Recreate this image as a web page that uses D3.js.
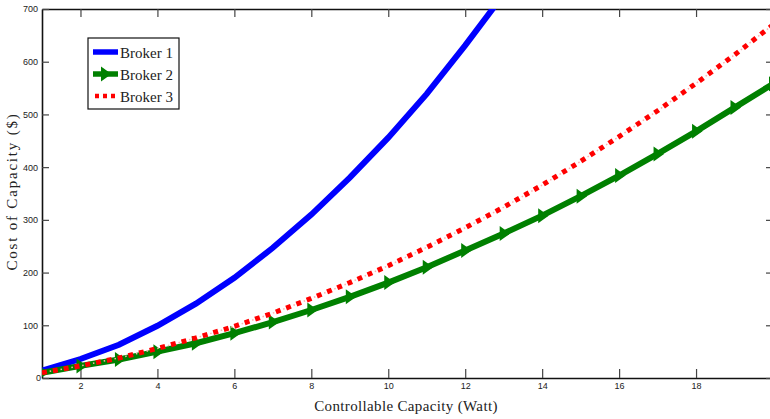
<!DOCTYPE html>
<html>
<head>
<meta charset="utf-8">
<script src="https://cdn.jsdelivr.net/npm/d3@7"></script>
<style>
  body { margin: 0; background: #fff; }
  .tick text { font-family: "Liberation Sans", Arial, sans-serif; font-size: 9px; fill: #222; }
  .axis-label, .legend text { font-family: "Liberation Serif", "DejaVu Serif", serif; fill: #222; }
</style>
</head>
<body>
<div id="chart-area"></div>
<script>
// values, x = 1..20
const capacity = d3.range(1, 21);
const broker1 = [14, 36, 63, 99, 141, 190, 247, 310, 380, 456, 539, 631, 728];
const broker2 = [10, 23, 35, 50, 66, 85, 106, 129, 154, 181, 210, 242, 274, 308, 345, 384, 425, 468, 513, 558];
const broker3 = [10, 23, 38, 56, 76, 98, 123, 151, 181, 213, 248, 285, 324, 366, 411, 458, 507, 559, 613, 670];
const xTicks = [2, 4, 6, 8, 10, 12, 14, 16, 18];
const yTicks = [0, 100, 200, 300, 400, 500, 600, 700];

const margin = { top: 9, right: 0, bottom: 41, left: 42 };
const totalW = 770, totalH = 419;
const width = 731, height = 369; // right edge runs past the window, like the picture

const svg = d3
  .select("#chart-area")
  .append("svg")
  .attr("width", totalW)
  .attr("height", totalH);

const g = svg
  .append("g")
  .attr("transform", "translate(" + margin.left + "," + margin.top + ")");

const xScale = d3.scaleLinear().domain([1, 20]).range([0, width]);
const yScale = d3.scaleLinear().domain([0, 700]).range([height, 0]);

g.append("clipPath")
  .attr("id", "plot-clip")
  .append("rect")
  .attr("width", width)
  .attr("height", height);

// axes, ticks pointing inward
const xAxisCall = d3.axisBottom(xScale).tickValues(xTicks).tickSizeInner(-9).tickSizeOuter(0).tickPadding(5);
const xAxisGroup = g.append("g").attr("class", "x axis").attr("transform", "translate(0," + height + ")").call(xAxisCall);

const xTopCall = d3.axisTop(xScale).tickValues(xTicks).tickSizeInner(-8).tickSizeOuter(0).tickFormat("");
g.append("g").attr("class", "x axis top").call(xTopCall);

const yAxisCall = d3.axisLeft(yScale).tickValues(yTicks).tickSizeInner(-7).tickSizeOuter(0).tickPadding(4);
const yAxisGroup = g.append("g").attr("class", "y axis").call(yAxisCall);

const yRightCall = d3.axisRight(yScale).tickValues(yTicks).tickSizeInner(-7).tickSizeOuter(0).tickFormat("");
g.append("g").attr("class", "y axis right").attr("transform", "translate(" + width + ",0)").call(yRightCall);

g.selectAll(".axis path").attr("stroke", "#111").attr("stroke-width", 1.6);
g.selectAll(".axis line").attr("stroke", "#444").attr("stroke-width", 1.2);
yAxisGroup.selectAll(".tick text").attr("dy", "0.32em");
yAxisGroup.select(".tick text").attr("dx", "3px"); // the 0 sits close to the corner

// Labels
g.append("text")
  .attr("class", "axis-label")
  .attr("x", 364)
  .attr("y", height + 33)
  .attr("font-size", "15px")
  .attr("letter-spacing", "0.35px")
  .attr("text-anchor", "middle")
  .text("Controllable Capacity (Watt)");

g.append("text")
  .attr("class", "axis-label")
  .attr("x", -(height / 2) + 2)
  .attr("y", -25)
  .attr("font-size", "15px")
  .attr("text-anchor", "middle")
  .attr("letter-spacing", "1.8px")
  .attr("transform", "rotate(-90)")
  .text("Cost of Capacity ($)");

// lines
const line = d3.line()
  .x((d, i) => xScale(capacity[i]))
  .y(d => yScale(d));

const plot = g.append("g").attr("clip-path", "url(#plot-clip)");

plot.append("path")
  .datum(broker1)
  .attr("fill", "none")
  .attr("stroke", "#0000ff")
  .attr("stroke-width", 6)
  .attr("d", line);

plot.append("path")
  .datum(broker2)
  .attr("fill", "none")
  .attr("stroke", "#008000")
  .attr("stroke-width", 6)
  .attr("d", line);

const tri = "M-4,-7.5L6.5,0L-4,7.5Z";
plot.selectAll(".marker")
  .data(broker2)
  .enter()
  .append("path")
  .attr("class", "marker")
  .attr("d", tri)
  .attr("fill", "#008000")
  .attr("transform", (d, i) => "translate(" + xScale(capacity[i]) + "," + yScale(d) + ")");

plot.append("path")
  .datum(broker3)
  .attr("fill", "none")
  .attr("stroke", "#ffb0b0")
  .attr("stroke-width", 1.5)
  .attr("stroke-dasharray", "1.5,9.5")
  .attr("stroke-dashoffset", -7.8)
  .attr("d", line);

plot.append("path")
  .datum(broker3)
  .attr("fill", "none")
  .attr("stroke", "#ff0000")
  .attr("stroke-width", 5)
  .attr("stroke-dasharray", "5,6")
  .attr("d", line);

// legend
const legend = svg.append("g").attr("class", "legend").attr("transform", "translate(88,38)");
legend.append("rect")
  .attr("width", 91)
  .attr("height", 71)
  .attr("fill", "#fff")
  .attr("stroke", "#111")
  .attr("stroke-width", 1.2);

const entries = [
  { name: "Broker 1", color: "#0000ff" },
  { name: "Broker 2", color: "#008000" },
  { name: "Broker 3", color: "#ff0000" }
];

entries.forEach((e, i) => {
  const y = 14 + i * 22;
  const row = legend.append("g").attr("transform", "translate(0," + y + ")");
  if (i === 2) {
    row.append("line").attr("x1", 5).attr("x2", 30).attr("stroke", "#ff0000")
      .attr("stroke-width", 4.5).attr("stroke-dasharray", "4,4").attr("stroke-dashoffset", -2);
  } else {
    row.append("line").attr("x1", 5).attr("x2", 30).attr("stroke", e.color).attr("stroke-width", 5.5);
  }
  if (i === 1) {
    row.append("path").attr("d", tri).attr("fill", e.color).attr("transform", "translate(17,0)");
  }
  row.append("text")
    .attr("x", 32)
    .attr("y", 5.5)
    .attr("font-size", "15px")
    .text(e.name);
});
</script>
</body>
</html>
